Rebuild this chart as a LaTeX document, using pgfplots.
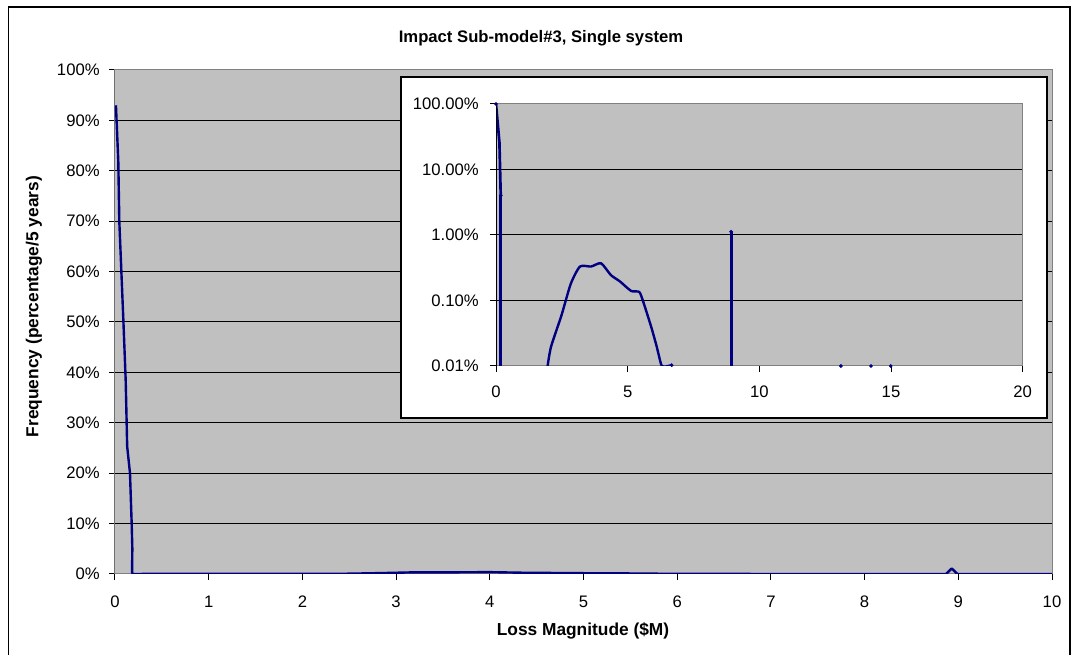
\documentclass[border=0pt]{standalone}
\usepackage{fontspec}
\setmainfont{Liberation Sans}
\usepackage{pgfplots}
\usepackage{pgfplotstable}
\pgfplotsset{compat=1.18}
\definecolor{navyline}{RGB}{0,0,128}
\definecolor{plotgray}{RGB}{192,192,192}
\definecolor{bordergray}{RGB}{128,128,128}

% main chart (percent)
\pgfplotstableread{
x y
0.01 93
0.035 82
0.046 70
0.09 50
0.114 38.5
0.13 25.3
0.16 20
0.178 10
0.185 5
0.182 0.3
0.19 0
0.7 0.05
1.96 0.01
2.49 0.06
2.84 0.18
3.19 0.33
3.61 0.33
3.99 0.37
4.36 0.25
5.13 0.14
5.59 0.10
5.89 0.04
6.67 0.01
8.87 0
8.93 1.1
8.99 0
10 0
}\maindata

% inset (percent, log scale)
\pgfplotstableread{
x y
0 100
0.13 26
0.18 4
}\insetA
\pgfplotstableread{
x y
0.18 4
}\insetAdrop
\pgfplotstableread{
x y
1.96 0.01
2.09 0.0197
2.49 0.06
2.84 0.18
3.19 0.33
3.61 0.33
3.99 0.37
4.36 0.245
4.71 0.195
5.13 0.14
5.44 0.135
5.59 0.096
5.89 0.04
6.10 0.02
6.29 0.0101
6.48 0.0099
6.67 0.0103
}\insetB
\pgfplotstableread{
x y
8.93 1.12
}\insetC
\pgfplotstableread{
x y
13.1 0.01
14.24 0.01
14.99 0.01
}\insetD

\begin{document}
\begin{tikzpicture}
\useasboundingbox (0pt,0pt) rectangle (804pt,-491.25pt);
\fill[white] (0pt,0pt) rectangle (804pt,-491.25pt);
\draw[black, line width=0.9pt] (6.2pt,-491.25pt) -- (6.2pt,-5.2pt) -- (802.5pt,-5.2pt) -- (802.5pt,-491.25pt);

\begin{axis}[
  at={(86.25pt,-430.5pt)}, anchor=south west,
  width=702.75pt, height=378pt, scale only axis,
  xmin=0, xmax=10, ymin=0, ymax=100,
  xtick={0,1,...,10}, ytick={0,10,...,100},
  yticklabel={\pgfmathprintnumber{\tick}\%},
  axis background/.style={fill=plotgray},
  axis line style={bordergray, line width=0.75pt},
  ymajorgrids, major grid style={black, line width=0.75pt},
  tick align=outside, tick style={black, line width=0.75pt},
  major tick length=4.5pt,
  xtick pos=bottom, ytick pos=left,
  tick label style={font=\fontsize{12.5}{14}\selectfont},
  yticklabel style={xshift=-3.5pt},
  xticklabel style={yshift=-8.5pt},
  /pgf/number format/assume math mode=true,
]
\addplot[navyline, line width=1.8pt, line join=round] table {\maindata};
\draw[black, line width=0.75pt] (rel axis cs:0,0) -- (rel axis cs:0,1);
\end{axis}

\draw[black, fill=white, line width=0.9pt] (300.75pt,-57.75pt) rectangle (785.25pt,-313.5pt);

\begin{axis}[
  at={(372pt,-274.5pt)}, anchor=south west,
  width=395pt, height=196.5pt, scale only axis,
  ymode=log,
  xmin=0, xmax=20, ymin=0.01, ymax=100,
  xtick={0,5,...,20}, ytick={0.01,0.1,1,10,100},
  yticklabels={0.01\%,0.10\%,1.00\%,10.00\%,100.00\%},
  yminorticks=false,
  log origin=infty,
  axis background/.style={fill=plotgray},
  axis line style={bordergray, line width=0.75pt},
  ymajorgrids, major grid style={black, line width=0.75pt},
  tick align=outside, tick style={black, line width=0.75pt},
  major tick length=4.5pt,
  xtick pos=bottom, ytick pos=left,
  tick label style={font=\fontsize{12.5}{14}\selectfont},
  yticklabel style={xshift=-5pt},
  xticklabel style={yshift=-7pt},
  /pgf/number format/assume math mode=true,
]
\addplot[navyline, line width=2pt, line join=round] table {\insetA};
\addplot[ycomb, navyline, line width=2.2pt, line cap=butt] table {\insetAdrop};
\addplot[navyline, line width=1.8pt, smooth, tension=0.4] table {\insetB};
\addplot[ycomb, navyline, line width=2.2pt, line cap=butt] table {\insetC};
\addplot[only marks, navyline, mark=*, mark size=1.2pt] coordinates {(8.93,1.12) (0,100) (0.18,4) (6.67,0.0103)};
\addplot[only marks, navyline, mark=*, mark size=1.2pt] table {\insetD};
\draw[black, line width=0.75pt] (rel axis cs:0,0) -- (rel axis cs:0,1);
\end{axis}

\node[font=\bfseries\fontsize{12.5}{14}\selectfont] at (405.75pt,-28.5pt) {Impact Sub-model\#3, Single system};
\node[rotate=90, font=\bfseries\fontsize{13}{15}\selectfont] at (25.5pt,-230pt) {Frequency (percentage/5 years)};
\node[font=\bfseries\fontsize{13}{15}\selectfont] at (437.25pt,-473.25pt) {Loss Magnitude (\$M)};
\end{tikzpicture}
\end{document}
